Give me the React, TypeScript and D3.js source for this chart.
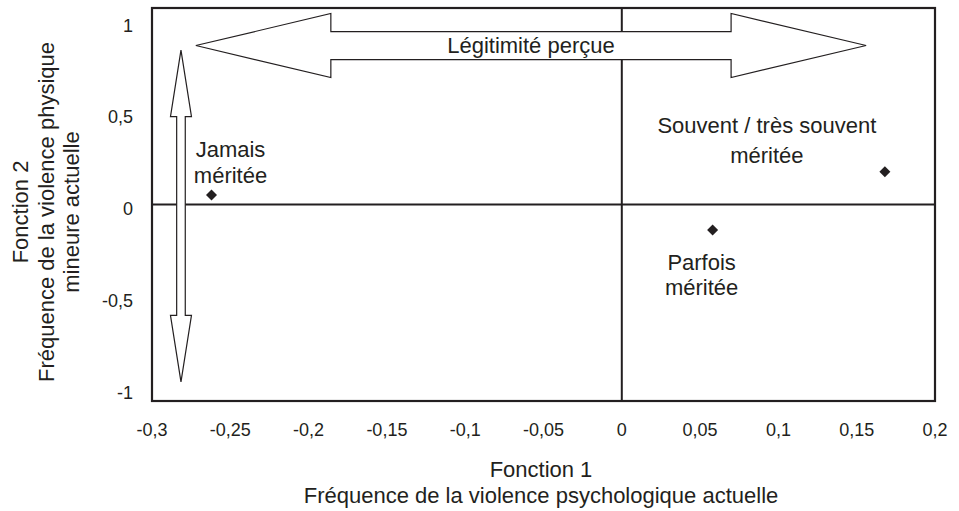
import * as d3 from "d3";

// values
const categories = ["Jamais méritée", "Parfois méritée", "Souvent / très souvent méritée"];
const labelLines = [
  ["Jamais", "méritée"],
  ["Parfois", "méritée"],
  ["Souvent / très souvent", "méritée"],
];
const fonction1 = [-0.262, 0.058, 0.168];
const fonction2 = [0.048, -0.13, 0.167];

const xTicks = [-0.3, -0.25, -0.2, -0.15, -0.1, -0.05, 0, 0.05, 0.1, 0.15, 0.2];
const yTicks = [-1, -0.5, 0, 0.5, 1];

const xTitle = ["Fonction 1", "Fréquence de la violence psychologique actuelle"];
const yTitle = ["Fonction 2", "Fréquence de la violence physique", "mineure actuelle"];
const arrowLabel = "Légitimité perçue";

// annotation arrows, in data units
const hArrow = { x1: -0.272, x2: 0.156, y: 0.809 };
const vArrow = { x: -0.2815, y1: 0.786, y2: -0.903 };

// layout (pixels)
const W = 959;
const H = 511;
const FONT = "'Liberation Sans', Arial, Helvetica, sans-serif";
const INK = "#231f20";
const labelOffsets = [
  { dx: 19, dy: -38, gap: 26 },
  { dx: -11, dy: 40, gap: 25 },
  { dx: -118, dy: -38.5, gap: 30 },
];

const fmt = (v: number) => String(v).replace(".", ",");

function doubleArrow(
  a: number,
  b: number,
  c: number,
  headLen: number,
  shaftHalf: number,
  headHalf: number,
  vertical: boolean
) {
  const pts: [number, number][] = [
    [a, c],
    [a + headLen, c - headHalf],
    [a + headLen, c - shaftHalf],
    [b - headLen, c - shaftHalf],
    [b - headLen, c - headHalf],
    [b, c],
    [b - headLen, c + headHalf],
    [b - headLen, c + shaftHalf],
    [a + headLen, c + shaftHalf],
    [a + headLen, c + headHalf],
  ];
  const p = vertical ? pts.map(([u, v]) => [v, u]) : pts;
  return "M" + p.map((q) => q.join(",")).join("L") + "Z";
}

export default function App() {
  const x = d3.scaleLinear().domain([-0.3, 0.2]).range([152, 935]);
  const y = d3.scaleLinear().domain([-1, 1]).range([401, 8]);
  // tick labels of the original sit on their own spacing
  const yLab = d3.scaleLinear().domain([-1, 1]).range([392, 25]);

  const diamond = d3.symbol().type(d3.symbolSquare).size(60)();

  const hx1 = x(hArrow.x1);
  const hx2 = x(hArrow.x2);
  const hy = y(hArrow.y);
  const vx = x(vArrow.x);
  const vy1 = y(vArrow.y1);
  const vy2 = y(vArrow.y2);

  return (
    <svg
      width={W}
      height={H}
      style={{ position: "absolute", left: 0, top: 0, display: "block", background: "#fff" }}
      fontFamily={FONT}
      fill={INK}
    >
      <rect x={0} y={0} width={W} height={H} fill="#fff" />

      {/* zero lines */}
      <line x1={x(0)} x2={x(0)} y1={y(1)} y2={y(-1)} stroke={INK} strokeWidth={2} />
      <line x1={x(-0.3)} x2={x(0.2)} y1={y(0)} y2={y(0)} stroke={INK} strokeWidth={2} />

      {/* arrows */}
      <path
        d={doubleArrow(hx1, hx2, hy, 135, 14, 32, false)}
        fill="#fff"
        stroke={INK}
        strokeWidth={1.2}
        strokeLinejoin="miter"
      />
      <path
        d={doubleArrow(vy1, vy2, vx, 66.5, 4.3, 10.5, true)}
        fill="#fff"
        stroke={INK}
        strokeWidth={1.2}
      />
      <text x={(hx1 + hx2) / 2} y={hy + 7.5} textAnchor="middle" fontSize={22}>
        {arrowLabel}
      </text>

      {/* frame */}
      <rect
        x={x(-0.3)}
        y={y(1)}
        width={x(0.2) - x(-0.3)}
        height={y(-1) - y(1)}
        fill="none"
        stroke={INK}
        strokeWidth={2.2}
      />

      {/* points */}
      {categories.map((c, i) => (
        <g key={c}>
          <path
            d={diamond}
            transform={`translate(${x(fonction1[i])},${y(fonction2[i])}) rotate(45)`}
            fill={INK}
          />
          {labelLines[i].map((t, j) => (
            <text
              key={j}
              x={x(fonction1[i]) + labelOffsets[i].dx}
              y={y(fonction2[i]) + labelOffsets[i].dy + j * labelOffsets[i].gap}
              textAnchor="middle"
              fontSize={22}
            >
              {t}
            </text>
          ))}
        </g>
      ))}

      {/* x tick labels */}
      {xTicks.map((v) => (
        <text key={v} x={x(v)} y={436} textAnchor="middle" fontSize={18}>
          {fmt(v)}
        </text>
      ))}

      {/* y tick labels */}
      {yTicks.map((v) => (
        <text key={v} x={133} y={yLab(v) + 6.5} textAnchor="end" fontSize={18}>
          {fmt(v)}
        </text>
      ))}

      {/* axis titles */}
      {xTitle.map((t, i) => (
        <text key={t} x={541} y={476.5 + i * 26.5} textAnchor="middle" fontSize={22}>
          {t}
        </text>
      ))}
      {yTitle.map((t, i) => (
        <text
          key={t}
          transform={`translate(${28 + i * 25.5},212) rotate(-90)`}
          textAnchor="middle"
          fontSize={22}
        >
          {t}
        </text>
      ))}
    </svg>
  );
}
